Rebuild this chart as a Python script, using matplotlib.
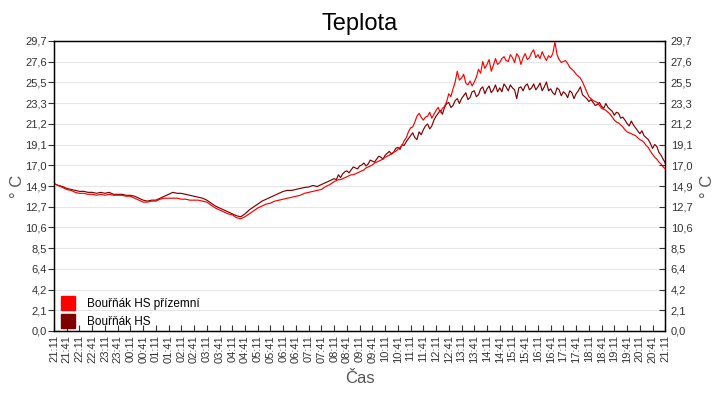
import numpy as np
import matplotlib
matplotlib.use("Agg")
import matplotlib.pyplot as plt
from matplotlib.lines import Line2D

plt.rcParams['font.family'] = ['Liberation Sans', 'DejaVu Sans']

# minutes after 21:11: 10-min samples overnight, 5-min samples from 08:11
minutes = np.concatenate([np.arange(0, 660, 10), np.arange(660, 1441, 5)])

hs = [
    # night, 10 min
    15.1, 14.9, 14.8, 14.6, 14.5, 14.4, 14.3, 14.3, 14.2, 14.2, 14.1, 14.2,
    14.1, 14.2, 14.0, 14.0, 14.0, 13.9, 13.9, 13.8, 13.6, 13.4, 13.3, 13.4,
    13.4, 13.6, 13.8, 14.0, 14.2, 14.1, 14.1, 14.0, 13.9, 13.8, 13.7, 13.6,
    13.4, 13.1, 12.8, 12.6, 12.4, 12.2, 12.0, 11.8, 11.7, 12.0, 12.4, 12.7,
    13.0, 13.3, 13.5, 13.7, 13.9, 14.1, 14.3, 14.4, 14.4, 14.5, 14.6, 14.7,
    14.75, 14.9, 14.8, 15.0, 15.2, 15.4,
    # day, 5 min
    15.6, 15.5, 16.0, 15.7, 16.1, 16.3, 16.4, 16.2, 16.5, 16.8, 16.7, 16.6,
    16.9, 17.0, 17.2, 16.9, 17.1, 17.5, 17.4, 17.3, 17.6, 17.9, 17.8, 17.6,
    18.0, 18.2, 18.4, 18.1, 18.3, 18.7, 18.8, 18.6, 19.1, 19.0, 19.4, 19.7,
    20.0, 20.3, 19.8, 19.6, 20.4, 20.1, 20.6, 21.0, 21.2, 20.7, 21.0, 21.6,
    22.0, 22.3, 22.6, 22.2, 22.9, 23.3, 23.4, 22.9, 23.1, 23.6, 23.8, 23.3,
    23.8, 24.1, 24.4, 23.7, 23.9, 24.5, 24.6, 24.0, 24.2, 24.8, 25.0, 24.3,
    24.8, 25.1, 24.4, 24.7, 25.2, 24.5, 24.9, 24.5, 25.3, 25.0, 24.6, 25.2,
    24.9, 24.7, 23.8, 24.9, 25.0, 24.6, 25.1, 25.3, 24.7, 24.9, 25.3, 24.7,
    25.0, 25.4, 24.6, 25.0, 25.5, 24.6, 24.8, 24.4, 24.2, 24.9, 24.7, 24.1,
    24.5, 24.3, 23.9, 24.6, 24.4, 23.8, 24.3, 24.6, 25.0, 24.2, 24.0, 23.8,
    23.5, 23.7, 23.4, 23.1, 23.2, 23.4, 23.0, 22.8, 23.3, 22.9, 22.7, 22.5,
    22.1, 22.4, 22.3, 21.8, 21.9, 21.6, 21.25, 21.0, 21.5, 21.1, 20.8, 20.5,
    20.2, 20.5, 20.0, 19.8, 19.6, 19.2, 18.7, 19.1, 18.9, 18.3, 18.0, 17.6,
    17.2,
]
hs_ground = [
    # night, 10 min
    15.1, 14.9, 14.7, 14.5, 14.4, 14.2, 14.1, 14.1, 14.0, 14.0, 13.9, 14.0,
    13.9, 14.0, 13.9, 13.9, 13.9, 13.8, 13.8, 13.6, 13.4, 13.2, 13.2, 13.3,
    13.3, 13.5, 13.6, 13.6, 13.6, 13.6, 13.5, 13.5, 13.4, 13.4, 13.4, 13.3,
    13.2, 12.9, 12.6, 12.4, 12.2, 12.0, 11.9, 11.6, 11.5, 11.7, 12.0, 12.3,
    12.6, 12.8, 13.0, 13.1, 13.3, 13.4, 13.5, 13.6, 13.7, 13.8, 13.9, 14.1,
    14.2, 14.3, 14.4, 14.5, 14.8, 15.0,
    # day, 5 min
    15.3, 15.4, 15.5, 15.5, 15.6, 15.7, 15.8, 15.9, 16.0, 16.0, 16.1, 16.2,
    16.3, 16.4, 16.5, 16.7, 16.8, 16.9, 17.0, 17.2, 17.3, 17.4, 17.5, 17.6,
    17.8, 17.9, 18.0, 18.2, 18.3, 18.4, 18.6, 18.8, 19.0, 19.5, 19.8, 20.4,
    20.8, 20.9, 21.4, 22.0, 22.3, 21.9, 21.6, 21.9, 22.0, 22.4, 21.8, 22.2,
    22.6, 22.9, 22.4, 22.8, 23.0, 23.5, 24.3, 24.0, 24.8, 25.5, 26.6, 25.7,
    25.9, 26.3, 25.4, 25.2, 25.6, 25.1, 25.5, 26.0, 26.8, 26.4, 27.6, 26.9,
    27.3, 27.8, 26.6, 27.2, 27.9, 27.3, 27.5, 27.9, 28.1, 27.7, 27.6, 28.3,
    28.0, 27.5, 28.4, 28.1, 27.3, 28.0, 28.4, 27.8, 28.0, 28.5, 28.8, 28.0,
    28.3, 27.9, 28.6, 28.1, 27.7, 28.2, 28.0, 28.4, 29.6, 28.3, 27.8, 27.5,
    27.6, 27.7, 27.4, 27.0, 26.8, 26.6, 26.3, 26.1, 25.9, 25.5, 25.0, 24.5,
    24.0, 23.8, 23.6, 23.5, 23.4, 23.1, 22.8, 22.7, 22.6, 22.4, 22.2, 21.9,
    21.6, 21.4, 21.3, 21.1, 20.9, 20.6, 20.4, 20.3, 20.2, 20.1, 20.0, 19.8,
    19.6, 19.5, 19.3, 19.0, 18.8, 18.4, 18.1, 17.8, 17.6, 17.3, 17.1, 16.8,
    16.6,
]
series_names = ['Bouřňák HS přízemní', 'Bouřňák HS']
series_colors = ['#ff0000', '#800000']

start_h, start_m = 21, 11
y_ticks = [0.0, 2.1214, 4.2429, 6.3643, 8.4857, 10.6071, 12.7286, 14.85,
           16.9714, 19.0929, 21.2143, 23.3357, 25.4571, 27.5786, 29.7]
y_labels = ['0,0', '2,1', '4,2', '6,4', '8,5', '10,6', '12,7', '14,9',
            '17,0', '19,1', '21,2', '23,3', '25,5', '27,6', '29,7']

x_ticks = np.arange(0, 24 * 60 + 1, 30)
x_labels = []
for m in x_ticks:
    tot = start_h * 60 + start_m + m
    x_labels.append('%02d:%02d' % ((tot // 60) % 24, tot % 60))

fig = plt.figure(figsize=(7.2, 4.0), dpi=100)
ax = fig.add_axes([0.075, 0.1725, 0.849, 0.725])

ax.plot(minutes, hs, color=series_colors[1], lw=0.85, zorder=3)
ax.plot(minutes, hs_ground, color=series_colors[0], lw=0.85, zorder=4)

ax.set_xlim(0, 24 * 60)
ax.set_ylim(0, 29.7)
ax.set_yticks(y_ticks)
ax.set_yticklabels(y_labels)
ax.set_xticks(x_ticks)
ax.set_xticklabels(x_labels, rotation=90)
ax.grid(axis='y', color='#e6e6e6', lw=0.8, zorder=0)
ax.tick_params(axis='y', direction='out', length=4, labelsize=8, colors='#333333', width=0.8, pad=1)
ax.tick_params(axis='x', direction='in', length=4, labelsize=8, colors='#333333', width=0.8, pad=3)
for s in ax.spines.values():
    s.set_color('black')
    s.set_linewidth(1.0)

ax2 = ax.twinx()
ax2.set_ylim(0, 29.7)
ax2.set_yticks(y_ticks)
ax2.set_yticklabels(y_labels)
ax2.tick_params(axis='y', direction='in', length=4, labelsize=8, colors='#333333', width=0.8, pad=4)

ax.set_title('Teplota', fontsize=17, pad=8)
ax.set_xlabel('Čas', fontsize=12, color='#555555', labelpad=6)
ax.set_ylabel('° C', fontsize=12, color='#555555')
ax2.set_ylabel('° C', fontsize=12, color='#555555', rotation=90)
ax.yaxis.set_label_coords(-0.047, 0.5)
ax2.yaxis.set_label_coords(1.057, 0.5)

handles = [Line2D([], [], marker='s', ls='', markersize=10, color=c) for c in series_colors]
ax.legend(handles, series_names, loc='lower left', bbox_to_anchor=(0.006, 0.0),
          frameon=False, fontsize=8.5, handletextpad=1.0, labelspacing=0.5,
          borderaxespad=0.15, borderpad=0.1, handlelength=1.2)

fig.savefig('out.png', dpi=100)
